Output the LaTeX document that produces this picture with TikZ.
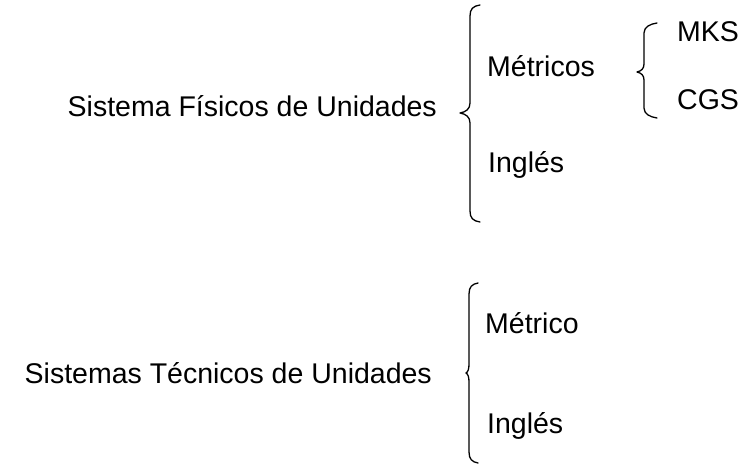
\documentclass[tikz,border=0pt]{standalone}
\usepackage{fontspec}
\setmainfont{Liberation Sans}
\newcommand{\bracepath}[5]{% x-vertical, x-tip, x-end, top, tipy, bottom
}
\begin{document}
\begin{tikzpicture}[x=1pt,y=-1pt,
  lbl/.style={inner sep=0pt,font=\fontsize{28.5}{34}\selectfont},
  brace/.style={line width=1.3pt,line cap=round,line join=round}]
\useasboundingbox (0,0) rectangle (741,465);
% labels
\node[lbl,anchor=base east] (fis) at (437,117) {Sistema Físicos de Unidades};
\node[lbl,anchor=base east] (tec) at (432,383) {Sistemas Técnicos de Unidades};
\node[lbl,anchor=base west] (met) at (487,77) {Métricos};
\node[lbl,anchor=base west] (ing1) at (488,173) {Inglés};
\node[lbl,anchor=base west] (mks) at (677,42) {MKS};
\node[lbl,anchor=base west] (cgs) at (677,110) {CGS};
\node[lbl,anchor=base west] (metr) at (485,333) {Métrico};
\node[lbl,anchor=base west] (ing2) at (487,433) {Inglés};
% brace 1
\draw[brace] (480,5) .. controls (473,6) and (470,9) .. (470,16)
  -- (470,103) .. controls (470,109) and (466,112) .. (460,113)
  .. controls (466,114) and (470,117) .. (470,123)
  -- (470,211) .. controls (470,218) and (473,221) .. (480,222);
% brace 2
\draw[brace] (657,23) .. controls (650,24) and (644,27) .. (644,33)
  -- (644,64) .. controls (644,69) and (641,71) .. (637,72)
  .. controls (641,73) and (644,75) .. (644,80)
  -- (644,108) .. controls (644,114) and (650,117) .. (657,118);
% brace 3
\draw[brace] (478,283) .. controls (472,284) and (469,287) .. (469,294)
  -- (469,364) .. controls (469,369) and (468,372) .. (466,373)
  .. controls (468,374) and (469,377) .. (469,382)
  -- (469,452) .. controls (469,459) and (472,462) .. (478,463);
\end{tikzpicture}
\end{document}
